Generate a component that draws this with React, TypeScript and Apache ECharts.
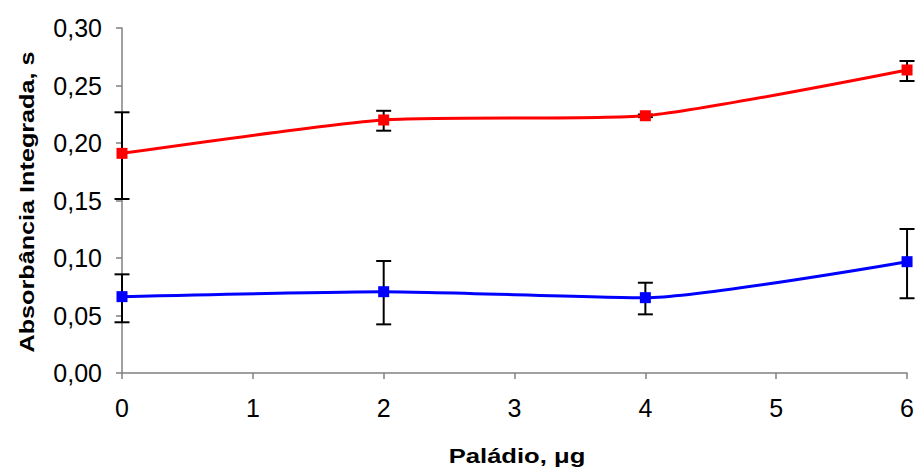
import React, { useEffect, useRef } from "react";
import * as echarts from "echarts";

const xValues = [0, 2, 4, 6];
const redValues = [0.191, 0.22, 0.2237, 0.2635];
const redLow = [0.1513, 0.2107, 0.2225, 0.2539];
const redHigh = [0.2267, 0.228, 0.2248, 0.2713];
const blueValues = [0.0664, 0.0707, 0.0655, 0.0968];
const blueLow = [0.0441, 0.0423, 0.051, 0.065];
const blueHigh = [0.0858, 0.0974, 0.0785, 0.1252];
const yTicks = ["0,00", "0,05", "0,10", "0,15", "0,20", "0,25", "0,30"];
const xTitle = "Paládio, μg";
const yTitle = "Absorbância Integrada, s";

const FONT = "'Liberation Sans', Arial, sans-serif";

function errorSeries(low: number[], high: number[]) {
  return {
    type: "custom",
    z: 1,
    data: xValues.map((x, i) => [x, low[i], high[i]]),
    renderItem: (params: any, api: any) => {
      const x = api.value(0);
      const lo = api.coord([x, api.value(1)]);
      const hi = api.coord([x, api.value(2)]);
      const hw = 7.5;
      const style = { stroke: "#000", lineWidth: 2 };
      return {
        type: "group",
        children: [
          { type: "line", shape: { x1: lo[0], y1: lo[1], x2: hi[0], y2: hi[1] }, style },
          { type: "line", shape: { x1: lo[0] - hw, y1: lo[1], x2: lo[0] + hw, y2: lo[1] }, style },
          { type: "line", shape: { x1: hi[0] - hw, y1: hi[1], x2: hi[0] + hw, y2: hi[1] }, style },
        ],
      };
    },
  };
}

export default function App() {
  const ref = useRef<HTMLDivElement>(null);
  useEffect(() => {
    const chart = echarts.init(ref.current!, null, { renderer: "svg" });
    chart.setOption({
      animation: false,
      backgroundColor: "#fff",
      grid: { left: 122, right: 5, top: 28, bottom: 97, containLabel: false },
      graphic: [
        {
          type: "text",
          x: 517,
          y: 456,
          scaleX: 1.22,
          style: {
            text: xTitle,
            fontFamily: FONT,
            fontSize: 21,
            fontWeight: "bold",
            fill: "#000",
            align: "center",
            verticalAlign: "middle",
          },
        },
        {
          type: "text",
          x: 27,
          y: 202,
          rotation: Math.PI / 2,
          scaleX: 1.2,
          style: {
            text: yTitle,
            fontFamily: FONT,
            fontSize: 21,
            fontWeight: "bold",
            fill: "#000",
            align: "center",
            verticalAlign: "middle",
          },
        },
      ],
      xAxis: {
        type: "value",
        min: 0,
        max: 6,
        interval: 1,
        axisLine: { show: true, lineStyle: { color: "#808080", width: 1.5 } },
        axisTick: { show: true, inside: false, length: 6, lineStyle: { color: "#808080", width: 1.5 } },
        axisLabel: { fontFamily: FONT, fontSize: 25, color: "#000", margin: 22 },
        splitLine: { show: false },
      },
      yAxis: {
        type: "value",
        min: 0,
        max: 0.3,
        interval: 0.05,
        axisLine: { show: true, lineStyle: { color: "#808080", width: 1.5 } },
        axisTick: { show: true, inside: false, length: 6, lineStyle: { color: "#808080", width: 1.5 } },
        axisLabel: {
          fontFamily: FONT,
          fontSize: 25,
          color: "#000",
          margin: 20,
          formatter: (v: number) => yTicks[Math.round(v / 0.05)] ?? "",
        },
        splitLine: { show: false },
      },
      series: [
        errorSeries(redLow, redHigh),
        errorSeries(blueLow, blueHigh),
        {
          type: "line",
          z: 3,
          smooth: 0.2,
          data: xValues.map((x, i) => [x, redValues[i]]),
          symbol: "rect",
          symbolSize: 11,
          itemStyle: { color: "#ff0000" },
          lineStyle: { color: "#ff0000", width: 3 },
        },
        {
          type: "line",
          z: 3,
          smooth: 0.2,
          data: xValues.map((x, i) => [x, blueValues[i]]),
          symbol: "rect",
          symbolSize: 11,
          itemStyle: { color: "#0000ff" },
          lineStyle: { color: "#0000ff", width: 3 },
        },
      ],
    });
    return () => chart.dispose();
  }, []);
  return (
    <div
      ref={ref}
      style={{ position: "fixed", left: 0, top: 0, width: 917, height: 470, background: "#fff" }}
    />
  );
}
